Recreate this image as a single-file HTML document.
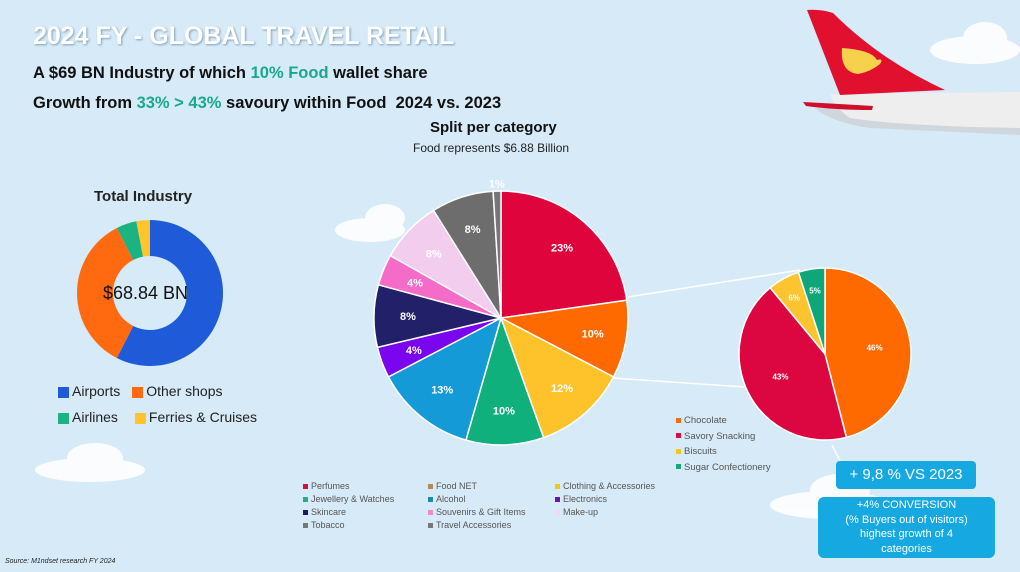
<!DOCTYPE html>
<html><head><meta charset="utf-8"><style>
body{margin:0;width:1020px;height:572px;overflow:hidden;background:#d7eaf8;font-family:"Liberation Sans",sans-serif;position:relative}
.a{position:absolute;white-space:nowrap}
.t{left:33px;top:22px;font-size:25px;font-weight:bold;color:#fff;text-shadow:1px 1px 2px #7f9fb8}
.s{left:33px;font-size:16.5px;font-weight:bold;color:#111}
.g{color:#19a88c}
.lg{font-size:9px;color:#555}
.sq{display:inline-block;width:5px;height:5px;margin-right:3px;vertical-align:middle}
.box{background:#16a8e0;color:#fff;text-align:center;border-radius:4px;position:absolute}
</style></head><body>
<svg class="a" style="left:0;top:0" width="1020" height="572">
 <g fill="#fff" opacity="0.9">
  <ellipse cx="975" cy="50" rx="45" ry="14"/><ellipse cx="985" cy="38" rx="22" ry="16"/>
  <ellipse cx="370" cy="230" rx="35" ry="12"/><ellipse cx="385" cy="218" rx="20" ry="14"/>
  <ellipse cx="90" cy="470" rx="55" ry="12"/><ellipse cx="95" cy="458" rx="28" ry="15"/>
  <ellipse cx="830" cy="505" rx="60" ry="14"/><ellipse cx="840" cy="490" rx="30" ry="16"/>
 </g>
 <g>
  <path d="M815 108 L1020 100 L1020 135 L870 128 Q830 122 815 108Z" fill="#cfd6dc"/>
  <path d="M830 94 L1020 92 L1020 128 Q900 126 850 118 Q835 108 830 94Z" fill="#eeeeee"/>
  <path d="M807 10 Q820 9 833 13 Q880 60 945 90 L840 95Z" fill="#e0102e"/>
  <path d="M842 48 Q872 50 877 60 Q884 58 880 64 Q870 72 858 74 Q840 72 842 48Z" fill="#f5d14c"/>
  <path d="M803 102 Q840 104 873 106 L872 110 Q835 110 806 106Z" fill="#d00e2b"/>
 </g>
 <line x1="628" y1="297" x2="800" y2="270" stroke="#fff" stroke-width="1.5"/>
 <line x1="612" y1="378" x2="745" y2="387" stroke="#fff" stroke-width="1.5"/>
 <line x1="832" y1="445" x2="840" y2="461" stroke="#fff" stroke-width="1.5"/>
 <g id="donut"></g><g id="pie"></g><g id="pie2"></g>
</svg>
<div class="a t">2024 FY - GLOBAL TRAVEL RETAIL</div>
<div class="a s" style="top:64px">A $69 BN Industry of which <span class="g">10% Food</span> wallet share</div>
<div class="a s" style="top:94px">Growth from <span class="g">33% &gt; 43%</span> savoury within Food &nbsp;2024 vs. 2023</div>
<div class="a" style="left:430px;top:119px;font-size:15px;font-weight:bold;color:#111">Split per category</div>
<div class="a" style="left:413px;top:141px;font-size:12px;color:#222">Food represents $6.88 Billion</div>
<div class="a" style="left:94px;top:188px;font-size:15px;font-weight:bold;color:#222">Total Industry</div>
<div class="a" style="left:103px;top:283px;font-size:18px;color:#111">$68.84 BN</div>
<div class="a" style="left:58px;top:378px;font-size:14px;color:#222;line-height:26px">
 <div><span class="sq" style="width:11px;height:11px;background:#1f5bd8"></span>Airports<span style="display:inline-block;width:12px"></span><span class="sq" style="width:11px;height:11px;background:#ff6a10"></span>Other shops</div>
 <div><span class="sq" style="width:11px;height:11px;background:#1cb383"></span>Airlines<span style="display:inline-block;width:17px"></span><span class="sq" style="width:11px;height:11px;background:#ffc52b"></span>Ferries &amp; Cruises</div>
</div>
<div class="a lg" style="left:303px;top:480px;line-height:13px">
 <div style="position:absolute;left:0;top:0"><span class="sq" style="background:#d0123c"></span>Perfumes</div>
 <div style="position:absolute;left:125px;top:0"><span class="sq" style="background:#b08a5a"></span>Food NET</div>
 <div style="position:absolute;left:252px;top:0"><span class="sq" style="background:#f5c518"></span>Clothing &amp; Accessories</div>
 <div style="position:absolute;left:0;top:13px"><span class="sq" style="background:#2aa890"></span>Jewellery &amp; Watches</div>
 <div style="position:absolute;left:125px;top:13px"><span class="sq" style="background:#1f8aa8"></span>Alcohol</div>
 <div style="position:absolute;left:252px;top:13px"><span class="sq" style="background:#6a14b0"></span>Electronics</div>
 <div style="position:absolute;left:0;top:26px"><span class="sq" style="background:#1b1a5c"></span>Skincare</div>
 <div style="position:absolute;left:125px;top:26px"><span class="sq" style="background:#f08ac8"></span>Souvenirs &amp; Gift Items</div>
 <div style="position:absolute;left:252px;top:26px"><span class="sq" style="background:#f3d8ee"></span>Make-up</div>
 <div style="position:absolute;left:0;top:39px"><span class="sq" style="background:#777"></span>Tobacco</div>
 <div style="position:absolute;left:125px;top:39px"><span class="sq" style="background:#777"></span>Travel Accessories</div>
</div>
<div class="a lg" style="left:676px;top:413px;line-height:15.5px;font-size:9.5px">
 <div><span class="sq" style="background:#ff6a10"></span>Chocolate</div>
 <div><span class="sq" style="background:#d80f45"></span>Savory Snacking</div>
 <div><span class="sq" style="background:#f5c518"></span>Biscuits</div>
 <div><span class="sq" style="background:#14a880"></span>Sugar Confectionery</div>
</div>
<div class="box" style="left:836px;top:461px;width:140px;height:28px;line-height:28px;font-size:15px">+ 9,8 % VS 2023</div>
<div class="box" style="left:818px;top:497px;width:177px;height:60px;font-size:11px;line-height:14.5px;padding-top:1px;border-radius:6px">+4% CONVERSION<br>(% Buyers out of visitors)<br>highest growth of 4<br>categories</div>
<div class="a" style="left:5px;top:558px;font-size:7px;font-style:italic;color:#222">Source: M1ndset research FY 2024</div>
<script>
const donutCats=["Airports","Other shops","Airlines","Ferries & Cruises"];
const donutVals=[57.5,35,4.5,3];
const donutColors=["#1f5bd8","#ff6a10","#1cb383","#ffc52b"];
const pieCats=["Perfumes","Food NET","Clothing & Accessories","Jewellery & Watches","Alcohol","Electronics","Skincare","Souvenirs & Gift Items","Make-up","Tobacco","Travel Accessories"];
const pieVals=[23,10,12,10,13,4,8,4,8,8,1];
const pieLabels=["23%","10%","12%","10%","13%","4%","8%","4%","8%","8%","1%"];
const pieColors=["#e0043c","#ff6a00","#fec32a","#10b07c","#159ad8","#7a06f0","#23206a","#f46cc8","#f2cdee","#6d6d6d","#777"];
const foodCats=["Chocolate","Savory Snacking","Biscuits","Sugar Confectionery"];
const foodVals=[46,43,6,5];
const foodLabels=["46%","43%","6%","5%"];
const foodColors=["#ff6a00","#dc0640","#fcc530","#0fa67a"];
const NS="http://www.w3.org/2000/svg";
function pt(cx,cy,r,a){return [cx+r*Math.sin(a),cy-r*Math.cos(a)];}
function drawPie(g,cats,vals,colors,cx,cy,r,ri,labels,lr,fs,nm){
 const tot=vals.reduce((s,v)=>s+v,0);let a=0;
 vals.forEach((v,i)=>{
  const a2=a+v/tot*2*Math.PI,lg=(a2-a)>Math.PI?1:0;
  const p1=pt(cx,cy,r,a),p2=pt(cx,cy,r,a2);
  let d;
  if(ri>0){const q1=pt(cx,cy,ri,a2),q2=pt(cx,cy,ri,a);
   d=`M${p1}A${r},${r} 0 ${lg} 1 ${p2}L${q1}A${ri},${ri} 0 ${lg} 0 ${q2}Z`;}
  else d=`M${cx},${cy}L${p1}A${r},${r} 0 ${lg} 1 ${p2}Z`;
  const p=document.createElementNS(NS,"path");
  p.setAttribute("d",d);p.setAttribute("fill",colors[i]);
  p.setAttribute("stroke",ri>0?"none":"#fff");p.setAttribute("stroke-width","1.5");
  
  
  g.appendChild(p);
  if(labels){const m=(a+a2)/2;const rr=(i===labels.length-1&&nm==="category")?r+7:lr;
   const c=pt(cx,cy,rr*(labels===foodLabels&&i>1?1.28:1),m);
   const t=document.createElementNS(NS,"text");
   t.setAttribute("x",c[0]);t.setAttribute("y",c[1]+fs/3);t.setAttribute("text-anchor","middle");
   t.setAttribute("fill","#fff");t.setAttribute("font-size",fs);t.setAttribute("font-weight","bold");
   t.setAttribute("font-family","Liberation Sans, sans-serif");t.textContent=labels[i];
   
   
   g.appendChild(t);}
  a=a2;});
}
drawPie(document.getElementById("donut"),donutCats,donutVals,donutColors,150,293,73,37,null,0,0,"donut");
drawPie(document.getElementById("pie"),pieCats,pieVals,pieColors,501,318,127,0,pieLabels,93,11,"category");
drawPie(document.getElementById("pie2"),foodCats,foodVals,foodColors,825,354,86,0,foodLabels,50,8,"food");
</script>
</body></html>
